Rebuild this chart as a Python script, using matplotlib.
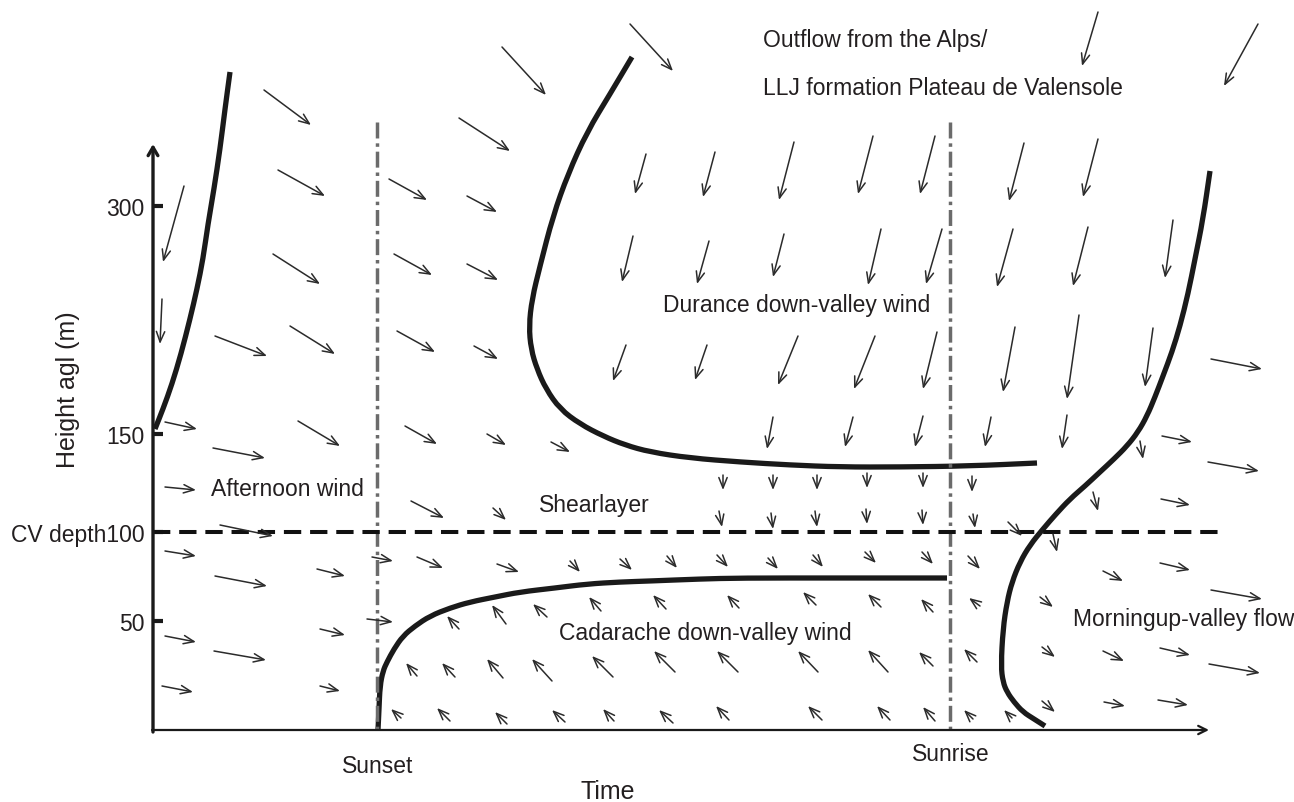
import matplotlib.pyplot as plt
from matplotlib.path import Path
from matplotlib.patches import PathPatch

plt.rcParams['font.family'] = ['Liberation Sans', 'DejaVu Sans']

# schematic coordinates: x = time axis position, y = height position (drawn downward)
# wind arrows as (tail x, tail y, head x, head y)
outflow_arrows = [
    (502, 48, 546, 96), (630, 25, 673, 72), (1098, 13, 1082, 67), (1258, 25, 1224, 87),
    (184, 187, 163, 263), (162, 300, 160, 345),
]
afternoon_arrows = [
    (264, 91, 311, 126), (278, 171, 325, 197), (273, 255, 320, 285),
    (215, 337, 267, 357), (290, 327, 335, 355),
    (165, 423, 197, 430), (298, 422, 340, 447), (213, 449, 265, 459),
    (165, 488, 196, 491), (220, 526, 273, 537),
    (165, 552, 196, 557), (215, 577, 267, 587), (317, 570, 345, 577),
    (165, 637, 196, 643), (214, 652, 266, 661), (320, 630, 345, 636),
    (162, 687, 193, 693), (320, 687, 340, 692),
]
evening_arrows = [
    (459, 119, 510, 152), (389, 180, 427, 201), (467, 197, 497, 213),
    (394, 255, 432, 276), (467, 265, 498, 281), (397, 332, 435, 353),
    (474, 347, 498, 360), (405, 427, 437, 445), (487, 435, 506, 446),
    (551, 443, 570, 453), (411, 502, 444, 519), (493, 509, 506, 521),
]
durance_arrows = [
    (646, 155, 635, 195), (715, 153, 703, 198), (794, 143, 779, 201), (873, 137, 858, 195),
    (935, 137, 920, 195), (1024, 144, 1009, 202), (1098, 140, 1083, 198),
    (633, 237, 622, 283), (709, 242, 697, 285), (784, 235, 773, 278), (881, 230, 868, 286),
    (942, 230, 926, 285), (1013, 230, 997, 288), (1088, 228, 1073, 287), (1173, 221, 1165, 279),
    (626, 346, 613, 382), (707, 346, 695, 381), (798, 337, 778, 386), (875, 337, 854, 390),
    (937, 333, 923, 390), (1015, 328, 1003, 393), (1079, 316, 1067, 400), (1153, 329, 1145, 388),
    (773, 418, 767, 450), (853, 418, 845, 448), (923, 417, 915, 448), (991, 418, 985, 448),
    (1067, 416, 1062, 450),
]
shear_arrows = [
    (723, 476, 723, 491), (773, 476, 773, 491), (817, 476, 817, 491), (867, 474, 867, 489),
    (923, 474, 923, 489), (972, 477, 972, 493),
    (719, 512, 722, 528), (771, 514, 773, 530), (815, 512, 817, 528), (866, 510, 867, 525),
    (922, 511, 923, 526), (973, 515, 975, 529),
    (1008, 523, 1022, 537), (1140, 442, 1143, 460), (1093, 493, 1098, 512), (1053, 535, 1057, 553),
]
low_arrows = [
    (372, 558, 393, 562), (417, 558, 443, 569), (497, 565, 519, 573), (570, 562, 580, 573),
    (620, 560, 632, 571), (367, 620, 393, 623),
    (667, 557, 677, 569), (717, 556, 728, 568), (768, 559, 778, 570), (813, 556, 823, 568),
    (865, 553, 876, 564), (922, 553, 933, 565), (968, 557, 980, 570),
]
cadarache_arrows = [
    (459, 630, 447, 617), (506, 625, 492, 606), (547, 618, 533, 605), (601, 612, 589, 598),
    (417, 677, 406, 664), (455, 678, 442, 664), (503, 679, 487, 660), (552, 682, 532, 660),
    (613, 678, 592, 657),
    (401, 719, 391, 710), (450, 722, 437, 709), (507, 725, 495, 713), (565, 723, 552, 711),
    (614, 722, 603, 710),
    (666, 610, 653, 596), (739, 609, 727, 596), (816, 606, 803, 593), (881, 608, 868, 595),
    (933, 613, 921, 600),
    (675, 673, 654, 652), (738, 673, 717, 652), (818, 673, 798, 652), (888, 673, 868, 651),
    (933, 667, 919, 653),
    (673, 724, 659, 711), (729, 721, 716, 707), (822, 721, 808, 707), (890, 721, 877, 707),
    (935, 722, 923, 708),
    (980, 607, 969, 599), (977, 663, 964, 650), (973, 720, 964, 711), (1012, 719, 1004, 711),
]
morning_arrows = [
    (1040, 598, 1053, 608), (1042, 648, 1055, 658), (1042, 702, 1055, 713),
    (1103, 572, 1123, 582), (1103, 652, 1124, 662), (1104, 703, 1125, 707),
    (1160, 564, 1190, 571), (1211, 591, 1262, 600), (1160, 649, 1190, 656),
    (1209, 665, 1260, 674), (1158, 701, 1188, 706),
    (1211, 360, 1262, 370), (1162, 437, 1192, 443), (1208, 463, 1259, 472), (1161, 500, 1190, 506),
]

# regime boundaries (thick lines), control points
afternoon_top_x = [230, 225, 220, 214, 208, 203, 197, 190, 181, 172, 163, 155]
afternoon_top_y = [73, 110, 150, 190, 225, 260, 290, 320, 355, 385, 410, 430]
durance_x = [632, 610, 587, 568, 553, 540, 532, 529, 531, 537, 546, 560, 580, 603, 625, 650,
             690, 740, 790, 840, 900, 970, 1037]
durance_y = [58, 95, 133, 175, 217, 267, 300, 327, 350, 370, 390, 410, 425, 437, 446, 453,
             459, 463, 466, 468, 468, 467, 464]
cadarache_x = [378, 379, 380, 383, 387, 394, 403, 415, 430, 450, 470, 495, 520, 555, 587, 620,
               650, 700, 740, 840, 947]
cadarache_y = [731, 710, 687, 672, 663, 650, 637, 627, 617, 609, 603, 598, 593, 589, 585, 583,
               582, 580, 579, 579, 579]
morning_x = [1210, 1203, 1195, 1188, 1180, 1172, 1163, 1155, 1147, 1138, 1127, 1114, 1100, 1085,
             1070, 1056, 1043, 1030, 1020, 1012, 1007, 1003, 1001, 1003, 1007, 1014, 1023, 1034, 1045]
morning_y = [172, 220, 260, 295, 327, 353, 377, 398, 417, 433, 447, 460, 473, 487, 500, 515,
             530, 546, 563, 583, 603, 630, 667, 683, 693, 703, 713, 720, 727]

sunset_x, sunrise_x = 377, 950
cv_depth_y = 533
tick_pos = [207, 435, 533, 622]
tick_labels = ['300', '150', 'CV depth100', '50']

labels = [
    ('Outflow from the Alps/', 763, 41),
    ('LLJ formation Plateau de Valensole', 763, 89),
    ('Durance down-valley wind', 663, 306),
    ('Afternoon wind', 211, 490),
    ('Shearlayer', 539, 506),
    ('Cadarache down-valley wind', 559, 634),
    ('Morningup-valley flow', 1073, 620),
]


def smooth_path(xs, ys):
    # quadratic bezier pieces through the midpoints, control points at the read points
    pts = list(zip(xs, ys))
    verts = [pts[0], ((pts[0][0] + pts[1][0]) / 2, (pts[0][1] + pts[1][1]) / 2)]
    codes = [Path.MOVETO, Path.LINETO]
    for i in range(1, len(pts) - 1):
        mid = ((pts[i][0] + pts[i + 1][0]) / 2, (pts[i][1] + pts[i + 1][1]) / 2)
        verts += [pts[i], mid]
        codes += [Path.CURVE3, Path.CURVE3]
    verts.append(pts[-1])
    codes.append(Path.LINETO)
    return Path(verts, codes)


txt = '#231f20'
fig = plt.figure(figsize=(12.94, 8.03), dpi=100)
ax = fig.add_axes([153 / 1294, 72 / 803, 1056 / 1294, 586 / 803])
ax.set_xlim(153, 1209)
ax.set_ylim(731, 145)
for s in ax.spines.values():
    s.set_visible(False)
ax.set_xticks([])
ax.set_yticks(tick_pos)
ax.set_yticklabels(tick_labels)
ax.tick_params(axis='y', direction='in', length=7, width=3, labelsize=16.5,
               labelcolor=txt, pad=6, color='#1a1a1a')

# axes drawn as arrows
ax.annotate('', xy=(153, 145), xytext=(153, 733), annotation_clip=False,
            arrowprops=dict(arrowstyle='->,head_length=0.6,head_width=0.35', lw=2.4,
                            color='#1a1a1a', shrinkA=0, shrinkB=0))
ax.annotate('', xy=(1209, 731), xytext=(152, 731), annotation_clip=False,
            arrowprops=dict(arrowstyle='->,head_length=0.6,head_width=0.3', lw=1.6,
                            color='#1a1a1a', shrinkA=0, shrinkB=0))

# sunset / sunrise and CV depth
for xv in [sunset_x, sunrise_x]:
    ax.plot([xv, xv], [123, 731], color='#6b6b6b', lw=2.5,
            linestyle=(0, (4.6, 1.4, 1.0, 1.4)), clip_on=False)
ax.plot([153, 1218], [cv_depth_y, cv_depth_y], color='#111111', lw=2.9,
        linestyle=(0, (4.3, 2.2)), clip_on=False)

# boundaries
for xs, ys in [(afternoon_top_x, afternoon_top_y), (durance_x, durance_y),
               (cadarache_x, cadarache_y), (morning_x, morning_y)]:
    ax.add_patch(PathPatch(smooth_path(xs, ys), facecolor='none', edgecolor='#1a1a1a',
                           lw=3.8, capstyle='butt', joinstyle='round', clip_on=False))

# wind arrows
all_arrows = (outflow_arrows + afternoon_arrows + evening_arrows + durance_arrows +
              shear_arrows + low_arrows + cadarache_arrows + morning_arrows)
for x0, y0, x1, y1 in all_arrows:
    ax.annotate('', xy=(x1, y1), xytext=(x0, y0), annotation_clip=False,
                arrowprops=dict(arrowstyle='->,head_length=0.75,head_width=0.3', lw=1.1,
                                color='#2b2b2b', shrinkA=0, shrinkB=0))

for s, x, y in labels:
    ax.text(x, y, s, fontsize=16.5, color=txt, ha='left', va='center', clip_on=False)

ax.text(68, 390, 'Height agl (m)', rotation=90, fontsize=18, color=txt,
        ha='center', va='center', clip_on=False)
ax.text(608, 792, 'Time', fontsize=18, color=txt, ha='center', va='center', clip_on=False)
ax.text(378, 767, 'Sunset', fontsize=16.5, color=txt, ha='center', va='center', clip_on=False)
ax.text(951, 755, 'Sunrise', fontsize=16.5, color=txt, ha='center', va='center', clip_on=False)

fig.savefig('out.png', dpi=100)
